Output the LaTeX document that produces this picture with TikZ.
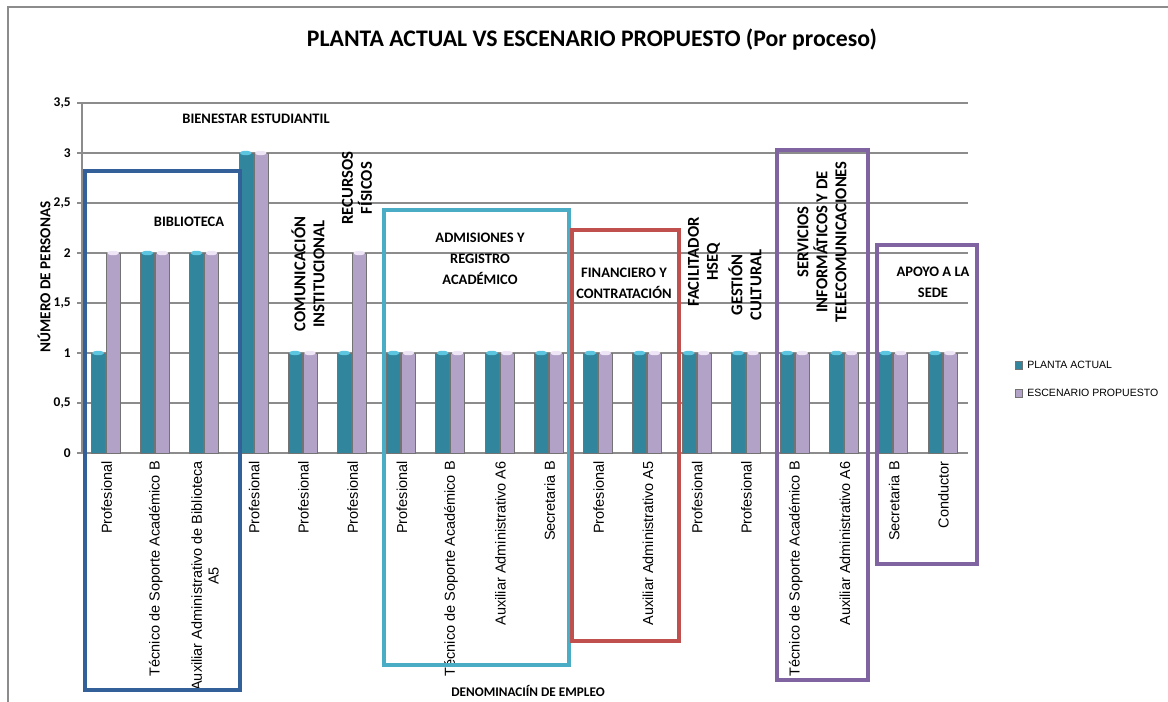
\documentclass[tikz,border=0pt]{standalone}
\usepackage{fontspec}
\setmainfont{Liberation Sans}
\newfontfamily\calibri{Carlito}
\definecolor{tealbar}{HTML}{31859C}
\definecolor{tealtop}{HTML}{5CC6E0}
\definecolor{lilabar}{HTML}{B3A2C7}
\definecolor{lilatop}{HTML}{EEE6F6}
\definecolor{boxnavy}{HTML}{34609A}
\definecolor{boxcyan}{HTML}{4BACC6}
\definecolor{boxred}{HTML}{C0504D}
\definecolor{boxviolet}{HTML}{8064A2}
\definecolor{gridgray}{HTML}{8C8C8C}
\tikzstyle{grupo} = [font=\calibri\bfseries\fontsize{10.3}{15}\selectfont, align=center, inner sep=0pt]
\tikzstyle{grupov} = [font=\calibri\bfseries\fontsize{11.8}{13.5}\selectfont, align=center, inner sep=0pt, rotate=90]
\tikzstyle{cargo} = [rotate=90, anchor=east, font=\fontsize{10.3}{12}\selectfont, align=center, inner sep=0pt]
\tikzstyle{marco} = [line width=2.6pt]
\tikzstyle{rejilla} = [draw=gridgray, line width=0.9pt]
\tikzstyle{eje} = [font=\calibri\bfseries\fontsize{9.5}{11}\selectfont, inner sep=0pt]
\tikzstyle{leyenda} = [font=\fontsize{7.5}{9}\selectfont, anchor=west, inner sep=0pt]

\begin{document}
\begin{tikzpicture}[x=0.25mm, y=-0.25mm]
\useasboundingbox (0,0) rectangle (1168,702);

% frame
\draw[gridgray, line width=0.9pt] (8,702) -- (8,7) -- (1168,7);

% title
\node at (592, 40) (titulo) [font=\calibri\bfseries\fontsize{16.9}{20}\selectfont] {PLANTA ACTUAL VS ESCENARIO PROPUESTO (Por proceso)};

% grid and value axis
\foreach \v/\t in {0/0, 1/{0,5}, 2/1, 3/{1,5}, 4/2, 5/{2,5}, 6/3, 7/{3,5}} {
  \draw[rejilla] (77, 453-50*\v) -- (968, 453-50*\v);
  \node at (71, 453-50*\v) (tick\v) [eje, anchor=east] {\t};
}
\draw[rejilla] (82,103) -- (82,453);
\node at (44, 277) (ejey) [eje, rotate=90, font=\calibri\bfseries\fontsize{10.8}{12}\selectfont] {NÚMERO DE PERSONAS};
\node at (528, 691) (ejex) [eje, font=\calibri\bfseries\fontsize{9.4}{11}\selectfont] {DENOMINACIÍN DE EMPLEO};

% bars
\foreach \i/\a/\b in {1/1/2, 2/2/2, 3/2/2, 4/3/3, 5/1/1, 6/1/2, 7/1/1, 8/1/1, 9/1/1,
                      10/1/1, 11/1/1, 12/1/1, 13/1/1, 14/1/1, 15/1/1, 16/1/1, 17/1/1, 18/1/1} {
  \pgfmathsetmacro\c{82+49.22*(\i-0.5)}
  \draw[fill=tealbar, draw=black!55, line width=0.3pt] (\c-15.5, 453) rectangle (\c-1.5, 453-100*\a);
  \fill[tealtop] (\c-8.5, 453-100*\a) ellipse (6 and 2.2);
  \draw[fill=lilabar, draw=black!55, line width=0.3pt] (\c-0.5, 453) rectangle (\c+13.5, 453-100*\b);
  \fill[lilatop] (\c+6.5, 453-100*\b) ellipse (6 and 2.2);
}

% job titles
\foreach \i/\t in {1/Profesional, 2/Técnico de Soporte Académico B, 3/{Auxiliar Administrativo de Biblioteca\\A5},
                   4/Profesional, 5/Profesional, 6/Profesional, 7/Profesional, 8/Técnico de Soporte Académico B,
                   9/Auxiliar Administrativo A6, 10/Secretaria B, 11/Profesional, 12/Auxiliar Administrativo A5,
                   13/Profesional, 14/Profesional, 15/Técnico de Soporte Académico B, 16/Auxiliar Administrativo A6,
                   17/Secretaria B, 18/Conductor} {
  \pgfmathsetmacro\c{82+49.22*(\i-0.5)}
  \node at (\c, 461) (cargo\i) [cargo] {\t};
}

% process boxes
\draw[marco, boxnavy] (85,171) rectangle (240,690);
\draw[marco, boxcyan] (384,210) rectangle (569,665);
\draw[marco, boxred] (572,230) rectangle (679,641);
\draw[marco, boxviolet] (777,150) rectangle (868,680);
\draw[marco, boxviolet] (877,245) rectangle (977,564);

% process names
\node at (256, 119) (bienestar) [grupo] {BIENESTAR ESTUDIANTIL};
\node at (189, 222) (biblioteca) [grupo] {BIBLIOTECA};
\node at (308, 274) (comunicacion) [grupov] {COMUNICACIÓN\\INSTITUCIONAL};
\node at (357, 188) (recursos) [grupov] {RECURSOS\\FÍSICOS};
\node at (480, 259) (admisiones) [grupo] {ADMISIONES Y\\REGISTRO\\ACADÉMICO};
\node at (624, 283) (financiero) [grupo] {FINANCIERO Y\\CONTRATACIÓN};
\node at (704, 262) (hseq) [grupov] {FACILITADOR\\HSEQ};
\node at (745, 285) (cultural) [grupov] {GESTIÓN\\CULTURAL};
\node at (822, 242) (servicios) [grupov] {SERVICIOS\\INFORMÁTICOS Y DE\\TELECOMUNICACIONES};
\node at (933, 282) (apoyo) [grupo] {APOYO A LA\\SEDE};

% legend
\draw[fill=tealbar, draw=black!55, line width=0.3pt] (1015,361) rectangle (1022,369);
\node at (1027, 365) (leyactual) [leyenda] {PLANTA ACTUAL};
\draw[fill=lilabar, draw=black!55, line width=0.3pt] (1015,389) rectangle (1022,397);
\node at (1027, 393) (leypropuesto) [leyenda] {ESCENARIO PROPUESTO};
\end{tikzpicture}
\end{document}
